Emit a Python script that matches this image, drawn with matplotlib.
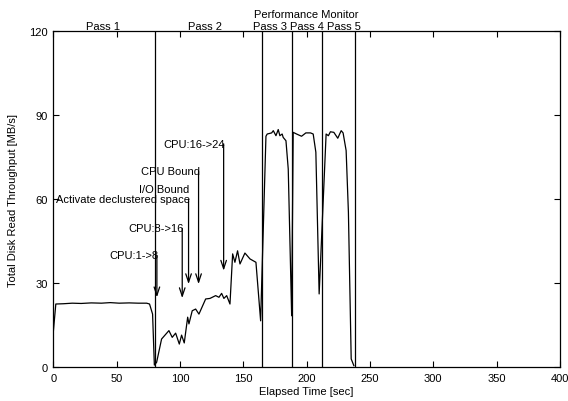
import matplotlib
matplotlib.use("Agg")
import matplotlib.pyplot as plt

plt.rcParams['font.family'] = ['Liberation Sans', 'DejaVu Sans']

# Throughput series (elapsed seconds, MB/s)
time_s = [0, 2, 8, 15, 22, 30, 38, 45, 52, 60, 67, 73.7, 76, 78.4, 79.8, 81.6,
          85.5, 91.3, 93.9, 96.6, 99.5, 101.3, 103.4, 106.1, 107.1, 109.7, 112.4,
          115, 120.3, 123.7, 128.2, 130.8, 132.9, 134.7, 136.9, 139.5, 141.6, 143.4,
          145.5, 147.4, 151.3, 155.3, 160, 163.7, 167.9, 168.9, 172.4, 173.7, 175.8,
          177.6, 178.9, 180.7, 181.5, 183.7, 185.5, 188.2, 189.4, 192.1, 196, 199.4,
          203.1, 205.2, 207.3, 209.9, 215.4, 217.2, 218.8, 221.5, 224.6, 227.3,
          228.8, 231.2, 233, 235.2, 237.3]
throughput = [12.5, 22.6, 22.7, 22.9, 22.8, 23.0, 22.9, 23.1, 22.9, 23.0, 22.9, 22.9, 22.6,
              19.0, 0.8, 1.8, 10.1, 13.1, 10.7, 12.2, 8.3, 11.5, 8.7, 17.9, 15.5, 20.2,
              20.8, 19.0, 24.4, 24.6, 25.6, 25.0, 26.4, 24.6, 25.6, 22.6, 40.5, 37.5,
              41.6, 36.9, 40.8, 38.7, 37.5, 16.6, 82.5, 83.3, 83.7, 84.5, 82.7, 84.9,
              82.7, 83.3, 82.1, 80.9, 70.8, 18.4, 83.9, 83.3, 82.5, 83.7, 83.7, 83.3,
              76.8, 26.2, 83.3, 82.7, 84.1, 83.9, 81.8, 84.5, 83.7, 77.4, 55.4, 3.0, 0.6]

# Pass boundaries
pass_bounds = [80, 165, 188.6, 211.8, 238]
pass_labels = ["Pass 1", "Pass 2", "Pass 3", "Pass 4", "Pass 5"]
pass_label_x = [39.5, 120, 171, 200, 229.6]

# Event annotations: label, x, label y (arrow start), arrow tip y
event_labels = ["CPU:1->8", "CPU:8->16", "Activate declustered space", "CPU Bound", "CPU:16->24"]
event_x = [81.8, 101.8, 106.8, 114.7, 134.5]
event_y0 = [40, 49.6, 60, 70, 79.8]
event_y1 = [25, 24.7, 29.7, 29.7, 34.5]

x_ticks = [0, 50, 100, 150, 200, 250, 300, 350, 400]
y_ticks = [0, 30, 60, 90, 120]

fig = plt.figure(figsize=(5.68, 4.02), dpi=100)
ax = fig.add_axes([0.0938, 0.0838, 0.892, 0.836])

ax.plot(time_s, throughput, color='black', lw=0.9)

for b in pass_bounds:
    ax.axvline(b, color='black', lw=0.9)

fs = 8
for lab, x in zip(pass_labels, pass_label_x):
    ax.text(x, 122.0, lab, ha='center', va='center', fontsize=fs, clip_on=False)
ax.text(199.6, 126.3, "Performance Monitor", ha='center', va='center', fontsize=fs, clip_on=False)

for lab, x, y0, y1 in zip(event_labels, event_x, event_y0, event_y1):
    ax.annotate("", xy=(x, y1), xytext=(x, y0),
                arrowprops=dict(arrowstyle='->,head_length=0.6,head_width=0.2',
                                color='black', lw=0.9, shrinkA=0, shrinkB=0))
    ax.text(x + 1, y0, lab, ha='right', va='center', fontsize=fs)
ax.text(107.3, 63.8, "I/O Bound", ha='right', va='center', fontsize=fs)

ax.set_xlim(0, 400)
ax.set_ylim(0, 120)
ax.set_xticks(x_ticks)
ax.set_yticks(y_ticks)
ax.tick_params(direction='in', length=4.5, width=0.8, top=True, right=True, labelsize=fs, pad=4)
for s in ax.spines.values():
    s.set_linewidth(0.9)
ax.set_xlabel("Elapsed Time [sec]", fontsize=fs, labelpad=2)
ax.set_ylabel("Total Disk Read Throughput [MB/s]", fontsize=fs, labelpad=8)

fig.savefig("out.png", dpi=100)
